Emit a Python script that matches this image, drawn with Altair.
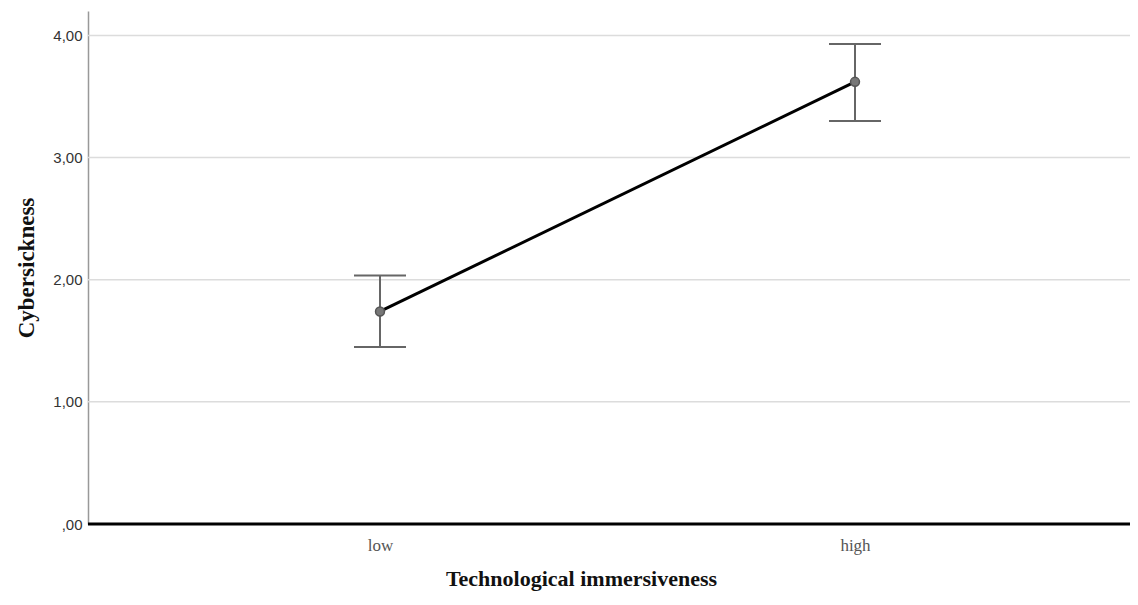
import altair as alt
import pandas as pd

conditions = ["low", "high"]
means = [1.74, 3.62]
upper = [2.035, 3.93]
lower = [1.45, 3.30]
y_ticks = [0, 1, 2, 3, 4]

df = pd.DataFrame({"cond": conditions, "mean": means, "upper": upper, "lower": lower})

W, H = 1042, 513
xscale = alt.Scale(type="point", range=[292, 767], padding=0)

xenc = alt.X("cond:N", sort=conditions, scale=xscale,
             axis=alt.Axis(title="Technological immersiveness", labelAngle=0, ticks=False,
                           domain=False, grid=False, labelFont="Liberation Serif",
                           labelFontSize=17, labelColor="#555555", labelPadding=13,
                           titleFont="Liberation Serif", titleFontSize=22, titleFontWeight="bold",
                           titleColor="#111111", titlePadding=15, titleX=493, titleAlign="center"))

yscale = alt.Scale(domain=[0, 4.2], nice=False)
yaxis = alt.Axis(title="Cybersickness", values=y_ticks, ticks=False, grid=False,
                 labelExpr="datum.value == 0 ? ',00' : replace(format(datum.value, '.2f'), '.', ',')",
                 labelFont="Liberation Sans", labelFontSize=15, labelColor="#333333", labelPadding=6,
                 domainColor="#999999", domainWidth=1.5,
                 titleFont="Liberation Serif", titleFontSize=23, titleFontWeight="bold",
                 titleColor="#111111", titlePadding=14)

base = alt.Chart(df)

axes_layer = base.mark_line(opacity=0).encode(x=xenc, y=alt.Y("mean:Q", scale=yscale, axis=yaxis))

grid = alt.Chart(pd.DataFrame({"g": y_ticks[1:]})).mark_rule(color="#dcdcdc", strokeWidth=1.5).encode(
    y=alt.Y("g:Q", scale=yscale), x=alt.value(0), x2=alt.value(W))

baseline = alt.Chart(pd.DataFrame({"z": [0]})).mark_rule(color="black", strokeWidth=3).encode(
    y=alt.Y("z:Q", scale=yscale), x=alt.value(0), x2=alt.value(W))

xs = alt.X("cond:N", sort=conditions, scale=xscale)

bars = base.mark_rule(color="#666666", strokeWidth=2).encode(
    x=xs, y=alt.Y("lower:Q", scale=yscale), y2="upper:Q")

caps_top = base.mark_tick(color="#666666", thickness=2, size=52, opacity=1).encode(
    x=xs, y=alt.Y("upper:Q", scale=yscale))
caps_bot = base.mark_tick(color="#666666", thickness=2, size=52, opacity=1).encode(
    x=xs, y=alt.Y("lower:Q", scale=yscale))

line = base.mark_line(color="black", strokeWidth=3).encode(
    x=xs, y=alt.Y("mean:Q", scale=yscale))

points = base.mark_point(filled=True, size=80, color="#777777", stroke="#555555",
                         strokeWidth=1.5, opacity=1).encode(
    x=xs, y=alt.Y("mean:Q", scale=yscale))

chart = alt.layer(axes_layer, grid, baseline, bars, caps_top, caps_bot, line, points).properties(
    width=W, height=H,
    autosize=alt.AutoSizeParams(type="none"),
    padding={"left": 80, "top": 3, "right": 0, "bottom": 73},
).configure(background="white").configure_view(stroke=None)

chart.save("out.html", embed_options={"renderer": "svg", "actions": False})
